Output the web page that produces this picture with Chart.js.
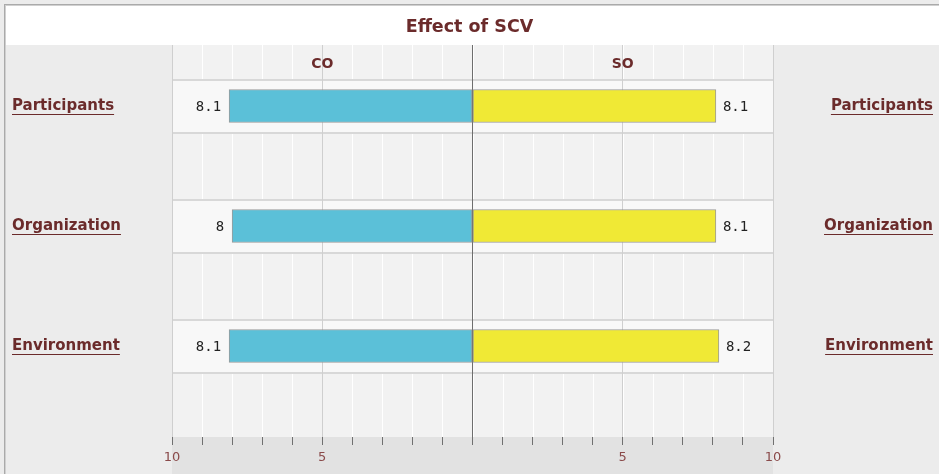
<!DOCTYPE html>
<html>
<head>
<meta charset="utf-8">
<script src="https://cdn.jsdelivr.net/npm/chart.js@4/dist/chart.umd.min.js"></script>
<style>
  body { margin: 0; background: #ececec; }
  canvas { display: block; }
</style>
</head>
<body>
<canvas id="scvChart" width="939" height="474"></canvas>
<script>
// chart data
const chartTitle = "Effect of SCV";
const categories = ["Participants", "Organization", "Environment"];
const seriesNames = ["CO", "SO"];
const coValues = [8.1, 8, 8.1];
const soValues = [8.1, 8.1, 8.2];
const axisMax = 10;

const maroon = "#6b2b2b";

// background, title panel, rows behind the bars
const backdrop = {
  id: "backdrop",
  beforeDraw(chart) {
    const { ctx, chartArea: a, width, height } = chart;
    const xs = chart.scales.x;
    const ys = chart.scales.y;
    ctx.save();
    ctx.fillStyle = "#ececec";
    ctx.fillRect(0, 0, width, height);
    ctx.fillStyle = "#aaaaaa";
    ctx.fillRect(4, 4, width - 4, 1);
    ctx.fillRect(4, 4, 1, height - 4);
    ctx.fillStyle = "#d0d0d0";
    ctx.fillRect(5, 5, width - 5, 1);
    ctx.fillRect(5, 5, 1, height - 5);
    ctx.fillStyle = "#ffffff";
    ctx.fillRect(6, 6, width - 6, a.top - 6);
    ctx.fillStyle = maroon;
    ctx.font = "bold 17.5px 'DejaVu Sans'";
    ctx.textAlign = "center";
    ctx.textBaseline = "middle";
    ctx.fillText(chartTitle, width / 2, 27);

    ctx.fillStyle = "#f2f2f2";
    ctx.fillRect(a.left, a.top, a.right - a.left, a.bottom - a.top);
    ctx.fillStyle = "#e2e2e2";
    ctx.fillRect(a.left, a.bottom, a.right - a.left, height - a.bottom);

    // minor white lines
    ctx.fillStyle = "#ffffff";
    for (let v = -axisMax + 1; v < axisMax; v++) {
      const px = Math.round(xs.getPixelForValue(v));
      ctx.fillRect(px, a.top, 1, a.bottom - a.top);
    }

    // light row bands
    categories.forEach((c, i) => {
      const cy = Math.round(ys.getPixelForValue(i));
      ctx.fillStyle = "#f8f8f8";
      ctx.fillRect(a.left, cy - 27, a.right - a.left, 54);
      ctx.fillStyle = "#d8d8d8";
      ctx.fillRect(a.left, cy - 27, a.right - a.left, 2);
      ctx.fillRect(a.left, cy + 26, a.right - a.left, 2);
    });
    ctx.restore();
  },
  afterDatasetsDraw(chart) {
    const { ctx } = chart;
    const xs = chart.scales.x;
    ctx.save();
    // series headers
    ctx.fillStyle = maroon;
    ctx.font = "bold 14px 'DejaVu Sans'";
    ctx.textAlign = "center";
    ctx.textBaseline = "middle";
    ctx.fillText(seriesNames[0], xs.getPixelForValue(-5), 64);
    ctx.fillText(seriesNames[1], xs.getPixelForValue(5), 64);

    // value labels
    ctx.fillStyle = "#222222";
    ctx.font = "14px 'DejaVu Sans Mono'";
    chart.data.datasets.forEach((ds, di) => {
      chart.getDatasetMeta(di).data.forEach((bar, i) => {
        const v = Math.abs(ds.data[i].x);
        if (di === 0) {
          ctx.textAlign = "right";
          ctx.fillText(String(v), bar.x - 8, bar.y + 1);
        } else {
          ctx.textAlign = "left";
          ctx.fillText(String(v), bar.x + 7, bar.y + 1);
        }
      });
    });

    // underline category labels
    ctx.strokeStyle = maroon;
    ctx.lineWidth = 1;
    ctx.font = "bold 15px 'DejaVu Sans'";
    ["y", "y2"].forEach((id) => {
      const s = chart.scales[id];
      categories.forEach((c, i) => {
        const w = ctx.measureText(c).width;
        const py = Math.round(s.getPixelForValue(i)) + 8.5;
        const x0 = id === "y" ? s.left : s.right - w;
        ctx.beginPath();
        ctx.moveTo(x0, py);
        ctx.lineTo(x0 + w, py);
        ctx.stroke();
      });
    });
    ctx.restore();
  }
};

const catTicks = (scale) => {
  scale.ticks = categories.map((c, i) => ({ value: i }));
};

const yAxis = (position) => ({
  type: "linear",
  position: position,
  reverse: true,
  stacked: true,
  offset: false,
  min: -0.508,
  max: 2.758,
  afterBuildTicks: catTicks,
  afterFit: (s) => { s.width = 160; },
  grid: { display: false, offset: false },
  border: { display: false },
  ticks: {
    crossAlign: "far",
    color: maroon,
    font: { family: "DejaVu Sans", size: 15, weight: "bold" },
    callback: (v) => categories[v]
  }
});

const ctx = document.getElementById("scvChart").getContext("2d");
new Chart(ctx, {
  type: "bar",
  data: {
    datasets: [
      {
        label: seriesNames[0],
        data: coValues.map((v, i) => ({ x: -v, y: i })),
        backgroundColor: "#5bc0d8",
        borderColor: "#9a9a9a",
        borderWidth: 1,
        borderSkipped: false
      },
      {
        label: seriesNames[1],
        data: soValues.map((v, i) => ({ x: v, y: i })),
        backgroundColor: "#f0e935",
        borderColor: "#9a9a9a",
        borderWidth: 1,
        borderSkipped: false
      }
    ]
  },
  options: {
    indexAxis: "y",
    responsive: false,
    animation: false,
    barThickness: 33,
    layout: { padding: { top: 45, left: 12, right: 6, bottom: 0 } },
    plugins: {
      legend: { display: false },
      tooltip: { enabled: false },
      title: { display: false }
    },
    scales: {
      x: {
        type: "linear",
        position: "bottom",
        stacked: true,
        min: -axisMax,
        max: axisMax,
        afterFit: (s) => { s.height = 37; },
        border: { display: false },
        grid: {
          lineWidth: 1,
          tickLength: 8,
          tickColor: "#707070",
          color: (c) => {
            const v = c.tick ? c.tick.value : 1;
            if (v === 0) return "#6e6e6e";
            if (v % 5 === 0) return "#cfcfcf";
            return "rgba(0,0,0,0)";
          }
        },
        ticks: {
          stepSize: 1,
          padding: 5,
          autoSkip: false,
          maxRotation: 0,
          color: "#8a4a4a",
          font: { family: "DejaVu Sans", size: 13 },
          callback: (v) => (v !== 0 && v % 5 === 0 ? String(Math.abs(v)) : "")
        }
      },
      y: yAxis("left"),
      y2: yAxis("right")
    }
  },
  plugins: [backdrop]
});
</script>
</body>
</html>
